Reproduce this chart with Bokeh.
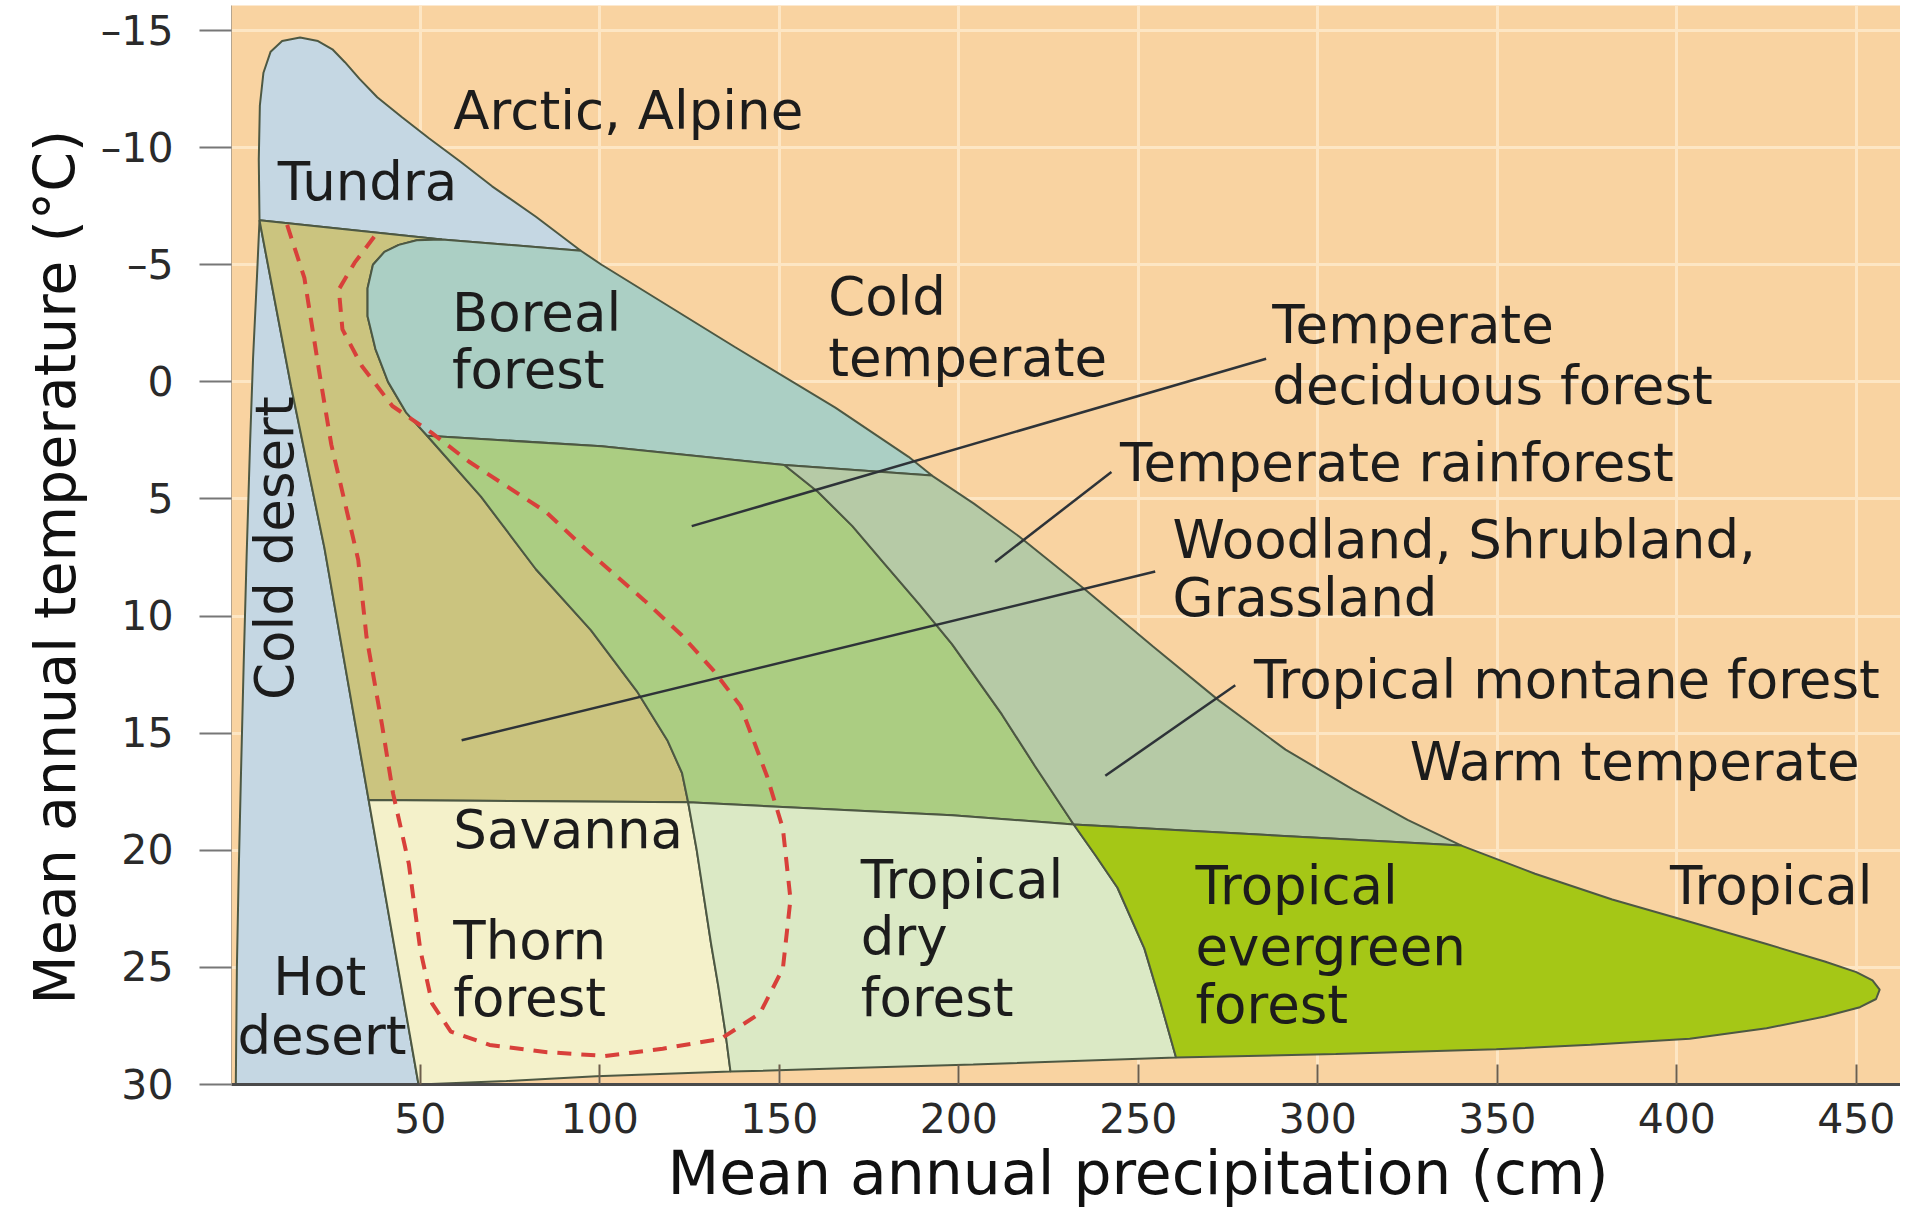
from bokeh.plotting import figure
from bokeh.models import Range1d, FixedTicker, ColumnDataSource, Title
from bokeh.core.properties import value
from bokeh.embed import file_html
from bokeh.resources import INLINE
import math

FONT = "DejaVu Sans"

# ---------------- axes ----------------
x_ticks = [50, 100, 150, 200, 250, 300, 350, 400, 450]
y_ticks = [-15, -10, -5, 0, 5, 10, 15, 20, 25, 30]
y_tick_text = {-15: "–15", -10: "–10", -5: "–5"}
x_title = "Mean annual precipitation (cm)"
y_title = "Mean annual temperature (°C)"

# ---------------- boundaries (precipitation cm, temperature °C) ----------------
env_tundra_p = [5.2, 5.0, 5.3, 6.3, 8.3, 11.5, 16.5, 21.5, 25.5, 29.0, 33.0, 38.0, 44.9, 52.4, 61.2, 70.0, 82.2, 94.7]
env_tundra_t = [-6.9, -9.5, -11.8, -13.2, -14.1, -14.55, -14.7, -14.55, -14.2, -13.65, -12.95, -12.15, -11.3, -10.4, -9.4, -8.35, -7.05, -5.6]
env_mid_p = [94.7, 100.5, 119.0, 137.5, 165.6, 186.0, 192.5, 204.2, 216.8, 235.4, 254.1, 272.4, 291.0, 309.7, 325.0, 340.0]
env_mid_t = [-5.6, -5.0, -3.25, -1.5, 1.1, 3.2, 4.0, 5.2, 6.6, 8.9, 11.3, 13.6, 15.7, 17.4, 18.7, 19.8]
env_te_p = [340.0, 360.5, 382.0, 403.6, 425.0, 441.2, 450.0, 454.5, 456.5, 455.5, 451.0, 441.2, 425.0, 403.6, 376.0, 349.7, 305.0, 260.5]
env_te_t = [19.8, 21.0, 22.1, 23.05, 24.0, 24.75, 25.2, 25.55, 25.95, 26.35, 26.7, 27.1, 27.6, 28.05, 28.3, 28.5, 28.7, 28.85]
env_bot_p = [260.5, 204.0, 170.0, 136.4, 99.0, 74.0, 49.5]
env_bot_t = [28.85, 29.15, 29.3, 29.45, 29.65, 29.85, 30.0]
env_left_p = [5.2, 4.5, 3.4, 2.6, 1.6, 0.8, 0.0, -0.6, -1.1, -1.4]
env_left_t = [-6.9, -4.5, -1.0, 2.5, 7.5, 12.0, 17.0, 21.0, 25.0, 30.0]

tundra_base_p = [5.2, 56.0, 94.7]
tundra_base_t = [-6.9, -6.08, -5.6]
desert_edge_p = [5.2, 14.0, 23.3, 35.6, 49.5]
desert_edge_t = [-6.9, 0.2, 7.1, 17.85, 30.0]
boreal_edge_p = [56.0, 49.0, 44.0, 40.0, 36.8, 35.3, 35.3, 37.5, 41.0, 46.0, 51.9]
boreal_edge_t = [-6.08, -6.05, -5.85, -5.55, -5.0, -4.0, -2.8, -1.4, 0.0, 1.3, 2.3]
boreal_base_p = [51.9, 100.5, 151.4, 192.5]
boreal_base_t = [2.3, 2.75, 3.55, 4.0]
woodland_edge_p = [51.9, 66.9, 82.2, 97.5, 110.3, 118.8, 122.9, 124.6]
woodland_edge_t = [2.3, 4.9, 8.0, 10.6, 13.2, 15.3, 16.7, 17.95]
rain_edge_p = [151.4, 160.8, 170.3, 179.5, 189.0, 198.1, 212.0, 221.2, 232.0]
rain_edge_t = [3.55, 4.7, 6.15, 7.8, 9.5, 11.2, 14.2, 16.4, 18.9]
savanna_top_p = [35.6, 124.6, 198.1, 232.0]
savanna_top_t = [17.85, 17.95, 18.5, 18.9]
te_top_p = [232.0, 340.0]
te_top_t = [18.9, 19.8]
savanna_edge_p = [124.6, 127.0, 129.0, 131.0, 133.0, 135.0, 136.4]
savanna_edge_t = [17.95, 20.0, 22.0, 24.0, 25.8, 27.8, 29.45]
te_edge_p = [232.0, 238.0, 244.2, 251.7, 256.0, 260.5]
te_edge_t = [18.9, 20.2, 21.6, 24.2, 26.4, 28.85]

dash_p = [12.9, 17.7, 22.1, 25.2, 29.5, 32.7, 35.0, 39.3, 42.4, 46.8, 50.0, 53.3, 58.5, 69.3, 85.3, 101.5,
          117.5, 133.7, 144.6, 151.0, 153.1, 151.0, 146.6, 139.2, 131.7, 122.9, 112.4, 96.1, 84.9, 63.6,
          53.1, 42.2, 33.7, 28.3, 27.3, 31.7, 38.1]
dash_t = [-6.7, -4.44, -0.18, 2.68, 5.5, 7.6, 10.88, 14.62, 17.57, 20.58, 24.26, 26.55, 27.74, 28.31, 28.62, 28.78,
          28.47, 28.05, 26.96, 25.04, 22.09, 19.08, 16.85, 13.84, 12.33, 10.83, 9.33, 7.15, 5.54, 3.41,
          2.17, 1.03, -0.68, -2.24, -3.95, -5.09, -6.39]

leader_p0 = [125.6, 210.1, 61.5, 240.8]
leader_t0 = [6.16, 7.69, 15.3, 16.82]
leader_p1 = [285.6, 242.5, 254.7, 277.0]
leader_t1 = [-0.99, 3.85, 8.1, 12.95]

label_text = ["Arctic, Alpine", "Tundra", "Boreal", "forest", "Cold", "temperate",
              "Temperate", "deciduous forest", "Temperate rainforest",
              "Woodland, Shrubland,", "Grassland", "Tropical montane forest",
              "Warm temperate", "Tropical", "Tropical", "evergreen", "forest",
              "Tropical", "dry", "forest", "Savanna", "Thorn", "forest"]
label_p = [59.2, 10.3, 58.8, 58.8, 163.6, 163.6, 287.3, 287.3, 244.9, 259.5, 259.5, 282.2,
           325.6, 398.1, 265.9, 265.9, 265.9, 172.7, 172.7, 172.7, 59.2, 59.2, 59.2]
label_t = [-11.58, -8.57, -2.97, -0.53, -3.64, -1.05, -2.45, 0.15, 3.46, 6.73, 9.22, 12.7,
           16.2, 21.5, 21.5, 24.1, 26.6, 21.25, 23.7, 26.3, 19.1, 23.85, 26.3]
hot_text = ["Hot", "desert"]
hot_p = [22.0, 22.6]
hot_t = [25.4, 27.9]
cold_desert_text = ["Cold desert"]
cold_desert_p = [9.4]
cold_desert_t = [7.1]


def join(*segs):
    xs, ys = [], []
    for sx, sy in segs:
        xs += list(sx)
        ys += list(sy)
    return xs, ys


def rev(a, b):
    return a[::-1], b[::-1]


tundra = join((env_tundra_p, env_tundra_t), rev(tundra_base_p[:2], tundra_base_t[:2]))
cold_desert = join((env_left_p, env_left_t), rev(desert_edge_p, desert_edge_t))
woodland = join((tundra_base_p[:2], tundra_base_t[:2]),
                (boreal_edge_p, boreal_edge_t),
                (woodland_edge_p, woodland_edge_t),
                rev(savanna_top_p[:2], savanna_top_t[:2]),
                rev(desert_edge_p[:4], desert_edge_t[:4]))
boreal = join((tundra_base_p[1:], tundra_base_t[1:]),
              (env_mid_p[:7], env_mid_t[:7]),
              rev(boreal_base_p, boreal_base_t),
              rev(boreal_edge_p, boreal_edge_t))
deciduous = join((boreal_base_p[:3], boreal_base_t[:3]),
                 (rain_edge_p, rain_edge_t),
                 rev(savanna_top_p[1:], savanna_top_t[1:]),
                 rev(woodland_edge_p, woodland_edge_t))
rainforest = join((boreal_base_p[2:], boreal_base_t[2:]),
                  (env_mid_p[6:], env_mid_t[6:]),
                  rev(te_top_p, te_top_t),
                  rev(rain_edge_p, rain_edge_t))
savanna = join((savanna_top_p[:2], savanna_top_t[:2]),
               (savanna_edge_p, savanna_edge_t),
               (env_bot_p[3:], env_bot_t[3:]),
               rev(desert_edge_p[3:], desert_edge_t[3:]))
dry = join((savanna_top_p[1:], savanna_top_t[1:]),
           (te_edge_p, te_edge_t),
           (env_bot_p[:4], env_bot_t[:4]),
           rev(savanna_edge_p, savanna_edge_t))
evergreen = join((te_top_p, te_top_t), (env_te_p, env_te_t), rev(te_edge_p, te_edge_t))

regions = [
    (cold_desert, "#c5d7e3"),
    (tundra, "#c5d7e3"),
    (woodland, "#cbc47f"),
    (boreal, "#abcfc4"),
    (deciduous, "#abcd82"),
    (rainforest, "#b6caa6"),
    (savanna, "#f4f1ca"),
    (dry, "#dbe9c5"),
    (evergreen, "#a5c716"),
]

W, H = 1900, 1222
LEFT, TOP = 231, 5
FRAME_W = W - LEFT
X0 = -2.6
X1 = X0 + FRAME_W / 3.59
p = figure(width=W, height=H, output_backend="svg", toolbar_location=None,
           x_range=Range1d(X0, X1), y_range=Range1d(30, -16.07),
           min_border_left=LEFT, min_border_right=0, min_border_top=TOP, min_border_bottom=H - TOP - 1079)
p.outline_line_color = None
p.background_fill_color = "#f9d3a1"
p.border_fill_color = "white"

p.xgrid.ticker = FixedTicker(ticks=x_ticks)
p.ygrid.ticker = FixedTicker(ticks=y_ticks)
for g in (p.xgrid, p.ygrid):
    g.grid_line_color = "#fde6c4"
    g.grid_line_width = 3

for (xs, ys), col in regions:
    p.patch(xs, ys, fill_color=col, line_color="#4d5843", line_width=2)

p.line(dash_p, dash_t, line_color="#d8403a", line_width=4, line_dash="14 10")

p.segment(x0=leader_p0, y0=leader_t0, x1=leader_p1, y1=leader_t1, line_color="#2e3338", line_width=2.5)

TXT = "#1c1c1c"
LSIZE = "53px"
src = ColumnDataSource(dict(x=label_p, y=label_t, text=label_text))
p.text(x="x", y="y", text="text", source=src, text_font=value(FONT), text_font_size=LSIZE,
       text_baseline="middle", text_align="left", text_color=TXT)
p.text(x=hot_p, y=hot_t, text=hot_text, text_font=value(FONT), text_font_size=LSIZE,
       text_baseline="middle", text_align="center", text_color=TXT)
p.text(x=cold_desert_p, y=cold_desert_t, text=cold_desert_text, text_font=value(FONT), text_font_size=LSIZE,
       text_baseline="middle", text_align="center", text_color=TXT, angle=math.pi / 2)

p.add_layout(Title(text=x_title, align="left", offset=436, vertical_align="middle", standoff=2,
                   text_font=FONT, text_font_size="60px", text_font_style="normal",
                   text_color="#111111"), "below")
p.add_layout(Title(text=y_title, align="left", offset=80, vertical_align="middle", standoff=18,
                   text_font=FONT, text_font_size="57px", text_font_style="normal",
                   text_color="#111111"), "left")

xa = p.xaxis[0]
xa.ticker = FixedTicker(ticks=x_ticks)
xa.major_tick_in = 20
xa.major_tick_out = 0
xa.minor_tick_line_color = None
xa.major_tick_line_color = "#6d5e4c"
xa.major_tick_line_width = 2
xa.axis_line_color = "#4a4a4a"
xa.axis_line_width = 3
xa.major_label_text_font = FONT
xa.major_label_text_font_size = "41px"
xa.major_label_text_color = "#2a2a2a"
xa.major_label_standoff = 18

ya = p.yaxis[0]
ya.ticker = FixedTicker(ticks=y_ticks)
ya.major_label_overrides = y_tick_text
ya.major_tick_in = 0
ya.major_tick_out = 32
ya.minor_tick_line_color = None
ya.major_tick_line_color = "#777777"
ya.major_tick_line_width = 2
ya.axis_line_color = "#b5a58f"
ya.axis_line_width = 1
ya.major_label_text_font = FONT
ya.major_label_text_font_size = "41px"
ya.major_label_text_color = "#2a2a2a"
ya.major_label_standoff = 26

open("out.html", "w").write(file_html(p, INLINE))
